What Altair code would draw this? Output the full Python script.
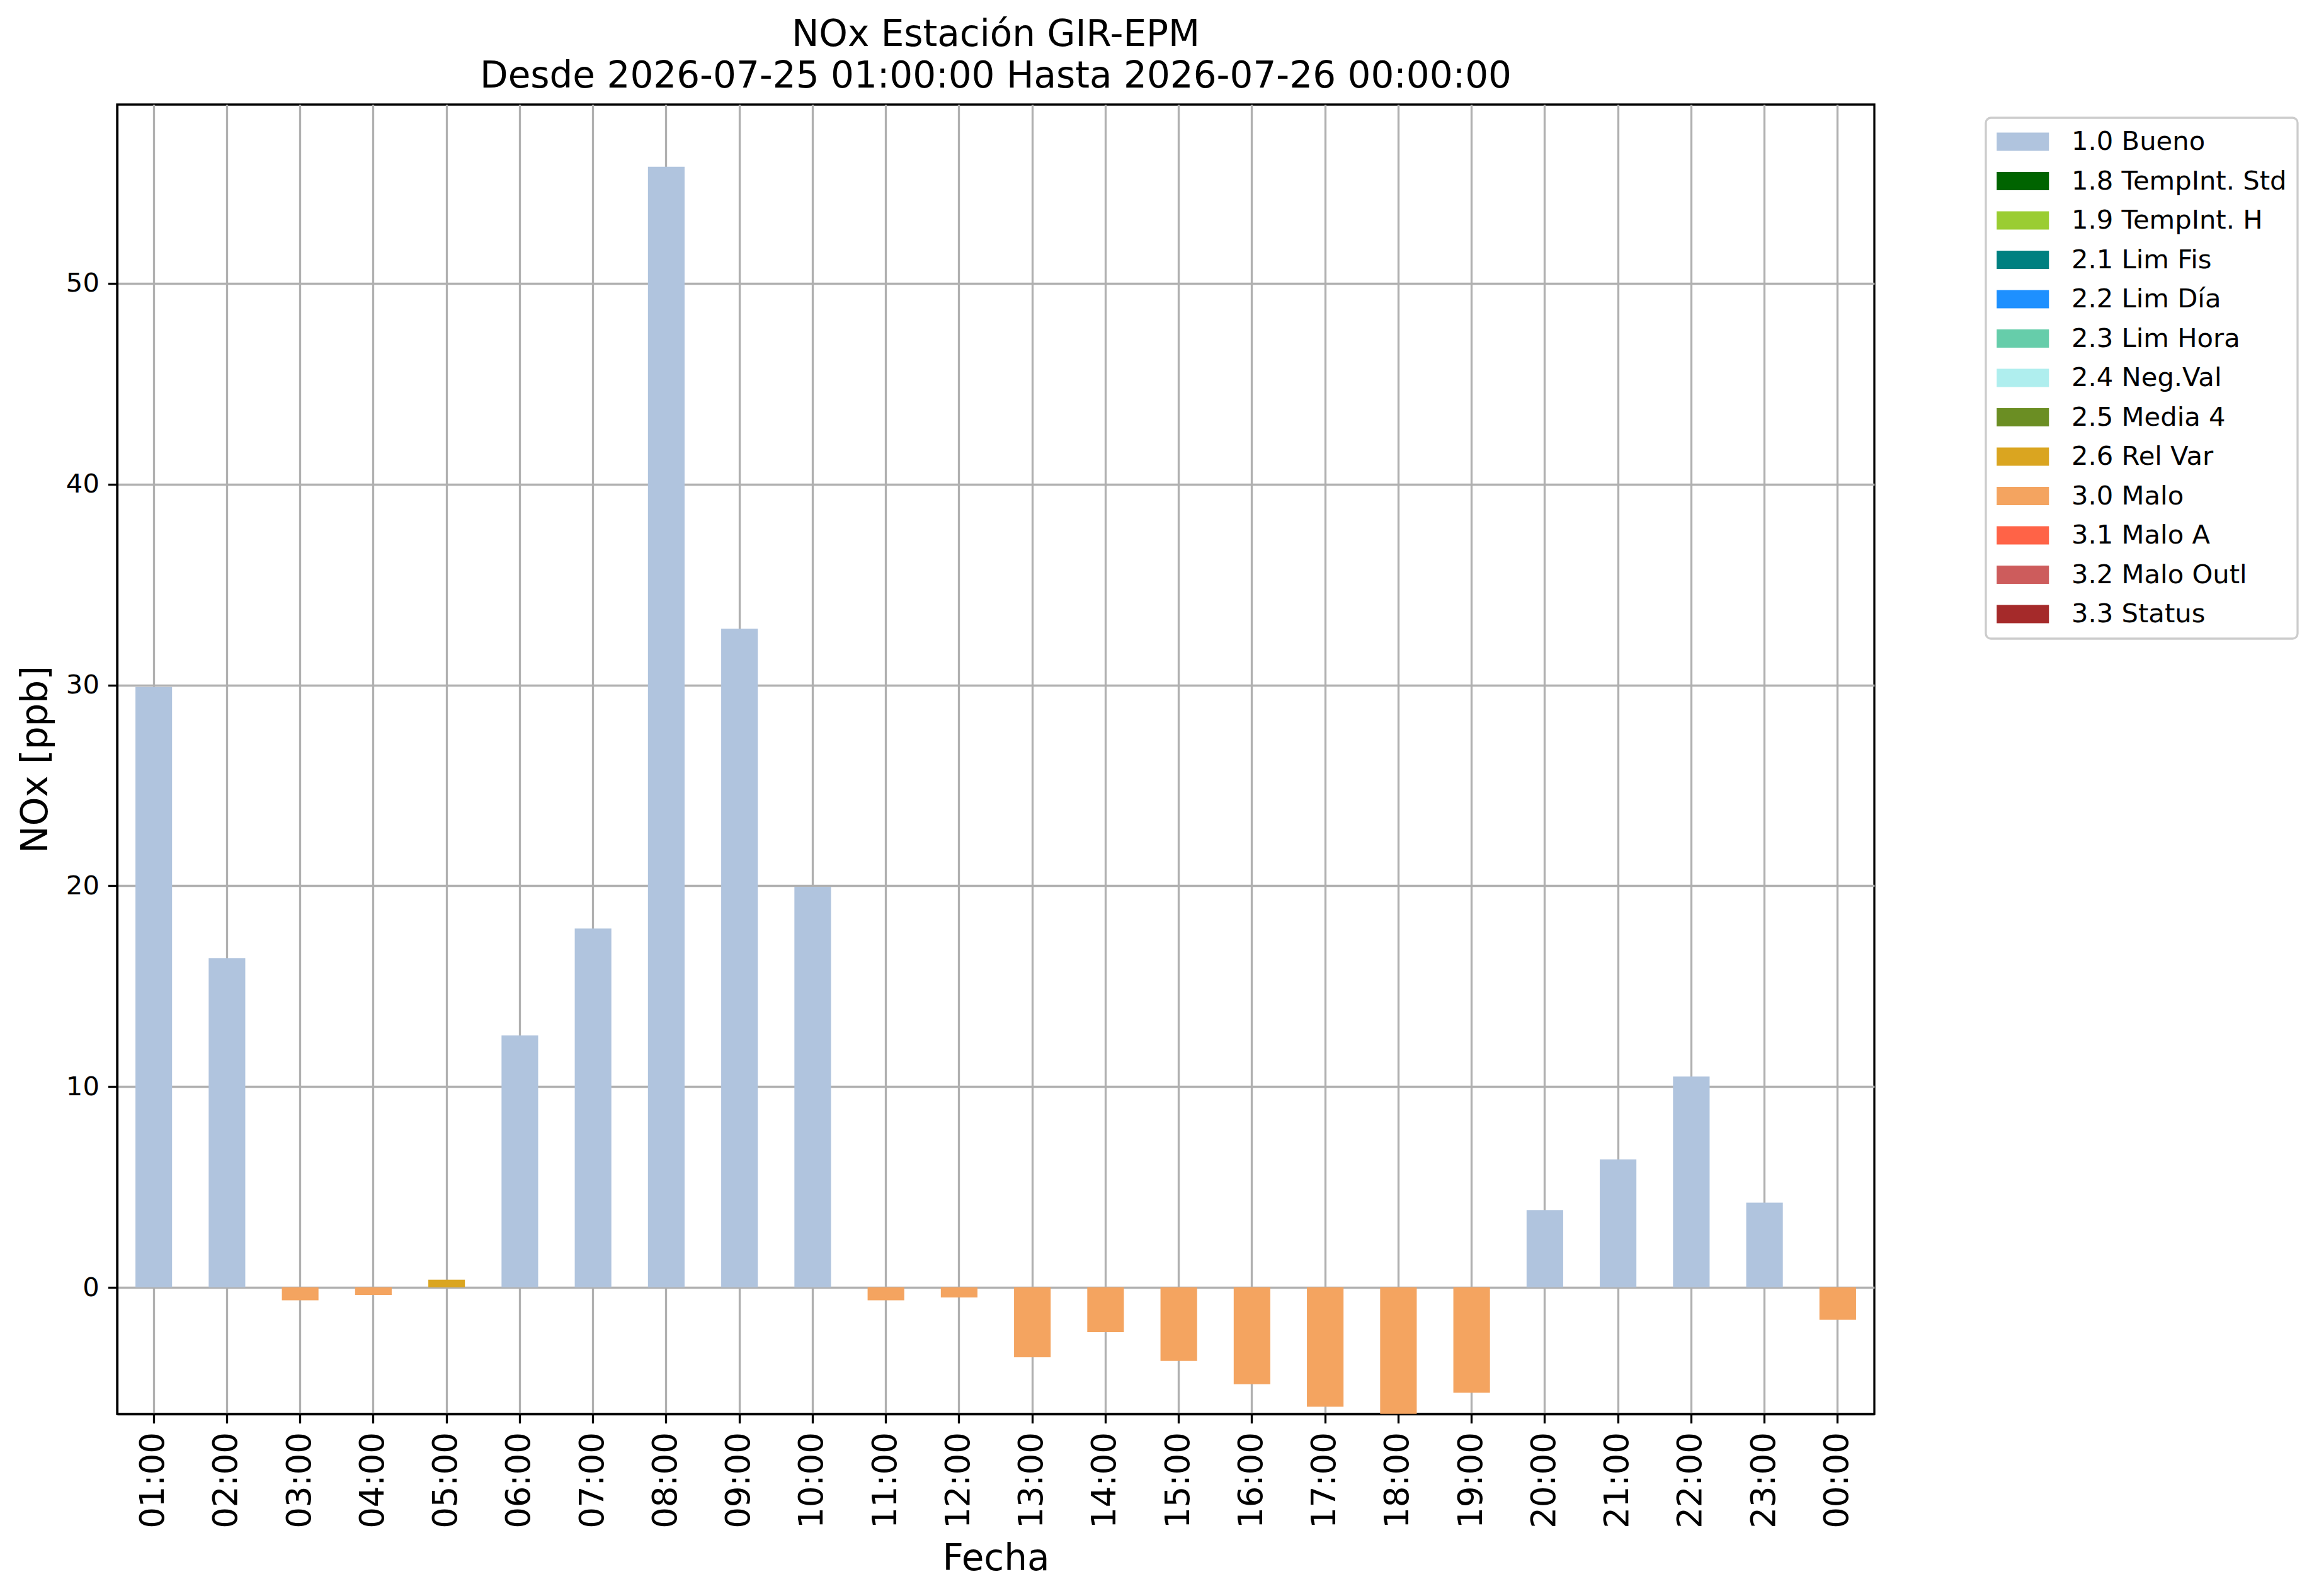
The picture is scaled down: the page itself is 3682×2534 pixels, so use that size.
import altair as alt
import pandas as pd

hours = ["01:00", "02:00", "03:00", "04:00", "05:00", "06:00", "07:00", "08:00",
         "09:00", "10:00", "11:00", "12:00", "13:00", "14:00", "15:00", "16:00",
         "17:00", "18:00", "19:00", "20:00", "21:00", "22:00", "23:00", "00:00"]
values = [29.9, 16.4, -0.64, -0.37, 0.39, 12.55, 17.87, 55.8,
          32.8, 19.95, -0.64, -0.5, -3.48, -2.22, -3.66, -4.82,
          -5.94, -6.29, -5.24, 3.85, 6.38, 10.5, 4.22, -1.61]
flags = ["1.0 Bueno", "1.0 Bueno", "3.0 Malo", "3.0 Malo", "2.6 Rel Var", "1.0 Bueno",
         "1.0 Bueno", "1.0 Bueno", "1.0 Bueno", "1.0 Bueno", "3.0 Malo", "3.0 Malo",
         "3.0 Malo", "3.0 Malo", "3.0 Malo", "3.0 Malo", "3.0 Malo", "3.0 Malo",
         "3.0 Malo", "1.0 Bueno", "1.0 Bueno", "1.0 Bueno", "1.0 Bueno", "3.0 Malo"]

flag_names = ["1.0 Bueno", "1.8 TempInt. Std", "1.9 TempInt. H", "2.1 Lim Fis",
              "2.2 Lim Día", "2.3 Lim Hora", "2.4 Neg.Val", "2.5 Media 4",
              "2.6 Rel Var", "3.0 Malo", "3.1 Malo A", "3.2 Malo Outl", "3.3 Status"]
flag_colors = ["#B0C4DE", "#006400", "#9ACD32", "#008080", "#1E90FF", "#66CDAA",
               "#AFEEEE", "#6B8E23", "#DAA520", "#F4A460", "#FF6347", "#CD5C5C",
               "#A52A2A"]

y_ticks = [0, 10, 20, 30, 40, 50]
y_domain = [-6.3, 58.9]

df = pd.DataFrame({"Fecha": hours, "NOx": values, "Flag": flags})

FONT = "DejaVu Sans"
LW = 3.3
GRID = "#b0b0b0"

rect_path = "M-1,-0.7L3,-0.7L3,0.7L-1,0.7Z"

chart = alt.Chart(df).mark_bar(clip=True, opacity=1).encode(
    x=alt.X("Fecha:N", sort=hours,
            scale=alt.Scale(paddingInner=0.5, paddingOuter=0.25),
            axis=alt.Axis(title="Fecha", labelAngle=270, bandPosition=0.5,
                          labelFontSize=53, titleFontSize=58,
                          labelPadding=14, titlePadding=20)),
    y=alt.Y("NOx:Q", scale=alt.Scale(domain=y_domain, nice=False, zero=False),
            axis=alt.Axis(title="NOx [ppb]", values=y_ticks, labelFontSize=41.7,
                          titleFontSize=58, labelPadding=14, titlePadding=18)),
    color=alt.Color("Flag:N",
                    scale=alt.Scale(domain=flag_names, range=flag_colors),
                    legend=alt.Legend(title=None, orient="none", legendX=2967, legendY=21,
                                      symbolType=rect_path, symbolSize=1722,
                                      symbolStrokeWidth=0, symbolOpacity=1,
                                      labelFontSize=41.7, labelFont=FONT,
                                      labelLimit=0, rowPadding=19.5, padding=17,
                                      labelOffset=77)),
).properties(
    width=2790,
    height=2079,
    title=alt.Title(["NOx Estación GIR-EPM",
                     "Desde 2026-07-25 01:00:00 Hasta 2026-07-26 00:00:00"]),
    autosize=alt.AutoSizeParams(type="none"),
    padding={"left": 178, "top": 158, "right": 690, "bottom": 270},
).configure_view(
    stroke="black", strokeWidth=LW
).configure_axis(
    labelFont=FONT, titleFont=FONT, labelColor="black", titleColor="black",
    titleFontWeight="normal", domainColor="black", domainWidth=LW,
    tickColor="black", tickWidth=LW, tickSize=14.6,
    grid=True, gridColor=GRID, gridWidth=LW, gridOpacity=1, zindex=1
).configure_title(
    font=FONT, fontSize=58, fontWeight="normal", color="black",
    anchor="middle", offset=15, lineHeight=66
).configure_legend(
    strokeColor="#cccccc", strokeWidth=LW, fillColor="white", cornerRadius=8,
    labelColor="black"
)

chart.save("out.html", embed_options={"renderer": "svg", "actions": False})
